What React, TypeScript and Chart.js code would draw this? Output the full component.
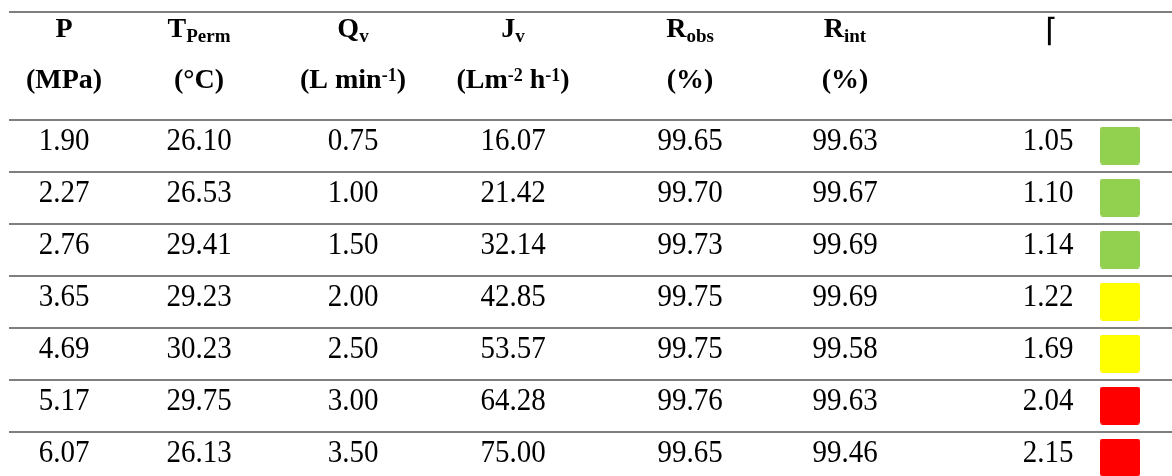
import React, { useEffect, useRef } from "react";
import { Chart, registerables } from "chart.js";

Chart.register(...registerables);

const pressureMPa = [1.9, 2.27, 2.76, 3.65, 4.69, 5.17, 6.07];
const permeateTempC = [26.1, 26.53, 29.41, 29.23, 30.23, 29.75, 26.13];
const flowRateLmin = [0.75, 1.0, 1.5, 2.0, 2.5, 3.0, 3.5];
const fluxLMH = [16.07, 21.42, 32.14, 42.85, 53.57, 64.28, 75.0];
const rejectionObs = [99.65, 99.7, 99.73, 99.75, 99.75, 99.76, 99.65];
const rejectionInt = [99.63, 99.67, 99.69, 99.69, 99.58, 99.63, 99.46];
const gammaFactor = [1.05, 1.1, 1.14, 1.22, 1.69, 2.04, 2.15];
const statusLevel = ["green", "green", "green", "yellow", "yellow", "red", "red"];

type Seg = [string, "n" | "sub" | "sup"];
const headerLine1: Seg[][] = [
  [["P", "n"]],
  [["T", "n"], ["Perm", "sub"]],
  [["Q", "n"], ["v", "sub"]],
  [["J", "n"], ["v", "sub"]],
  [["R", "n"], ["obs", "sub"]],
  [["R", "n"], ["int", "sub"]],
];
const headerLine2: Seg[][] = [
  [["(MPa)", "n"]],
  [["(°C)", "n"]],
  [["(L min", "n"], ["-1", "sup"], [")", "n"]],
  [["(Lm", "n"], ["-2", "sup"], [" h", "n"], ["-1", "sup"], [")", "n"]],
  [["(%)", "n"]],
  [["(%)", "n"]],
];
const gammaSymbol = "⌈";

// ---- styles / layout ----
const STATUS_COLORS: Record<string, string> = {
  green: "#92D050",
  yellow: "#FFFF00",
  red: "#FF0000",
};
const W = 1172;
const H = 476;
const ROW_PX = 52;
const FIRST_ROW_TOP_PX = 119.5;
const LAYOUT = {
  colX: [64, 199, 353, 513, 690, 845, 1048],
  swatchX: 1120,
  ruleLeft: 9,
  topRuleV: -2.067,
  head1V: -1.587,
  head2V: -0.606,
  baselineV: 30 / ROW_PX,
  yMin: -FIRST_ROW_TOP_PX / ROW_PX,
  yMax: (H - FIRST_ROW_TOP_PX) / ROW_PX,
};
const SERIF = '"Liberation Serif", "Times New Roman", serif';

function makeSwatch(color: string): HTMLCanvasElement {
  const c = document.createElement("canvas");
  c.width = 40;
  c.height = 38;
  const g = c.getContext("2d")!;
  g.fillStyle = color;
  g.beginPath();
  if ((g as any).roundRect) (g as any).roundRect(0, 0, 40, 38, 3);
  else g.rect(0, 0, 40, 38);
  g.fill();
  return c;
}

function drawRich(ctx: CanvasRenderingContext2D, segs: Seg[], cx: number, baseY: number) {
  const font = (k: string) =>
    k === "n" ? `bold 28px ${SERIF}` : k === "sub" ? `bold 19px ${SERIF}` : `bold 18px ${SERIF}`;
  const dy = (k: string) => (k === "sub" ? 5 : k === "sup" ? -7 : 0);
  let total = 0;
  const widths = segs.map(([t, k]) => {
    ctx.font = font(k);
    const w = ctx.measureText(t).width;
    total += w;
    return w;
  });
  let x = cx - total / 2;
  ctx.textAlign = "left";
  ctx.textBaseline = "alphabetic";
  segs.forEach(([t, k], i) => {
    ctx.font = font(k);
    ctx.fillText(t, x, baseY + dy(k));
    x += widths[i];
  });
}

const tablePlugin = {
  id: "tablePlugin",
  beforeDatasetsDraw(chart: any) {
    const { ctx, scales } = chart;
    const y = scales.y;
    ctx.save();
    ctx.strokeStyle = "#7F7F7F";
    ctx.lineWidth = 2;
    const rules = [LAYOUT.topRuleV];
    for (let i = 0; i < pressureMPa.length; i++) rules.push(i);
    rules.forEach((v) => {
      const py = Math.round(y.getPixelForValue(v));
      ctx.beginPath();
      ctx.moveTo(LAYOUT.ruleLeft, py);
      ctx.lineTo(W, py);
      ctx.stroke();
    });
    ctx.restore();
  },
  afterDatasetsDraw(chart: any) {
    const { ctx, scales } = chart;
    const x = scales.x;
    const y = scales.y;
    ctx.save();
    ctx.fillStyle = "#000";
    const h1 = y.getPixelForValue(LAYOUT.head1V);
    const h2 = y.getPixelForValue(LAYOUT.head2V);
    headerLine1.forEach((segs, c) => drawRich(ctx, segs, x.getPixelForValue(LAYOUT.colX[c]), h1));
    headerLine2.forEach((segs, c) => drawRich(ctx, segs, x.getPixelForValue(LAYOUT.colX[c]), h2));
    // gamma header symbol
    ctx.font = `32px "DejaVu Sans", sans-serif`;
    ctx.textAlign = "left";
    ctx.fillText(gammaSymbol, x.getPixelForValue(LAYOUT.colX[6]) - 3, h1 + 4);

    const cols = [pressureMPa, permeateTempC, flowRateLmin, fluxLMH, rejectionObs, rejectionInt, gammaFactor];
    ctx.font = `29px ${SERIF}`;
    ctx.textAlign = "center";
    ctx.textBaseline = "alphabetic";
    const sy = 1.08;
    cols.forEach((arr, c) => {
      arr.forEach((val, i) => {
        const px = x.getPixelForValue(LAYOUT.colX[c]);
        const py = y.getPixelForValue(i + LAYOUT.baselineV);
        ctx.save();
        ctx.translate(px, py);
        ctx.scale(1, sy);
        ctx.fillText(val.toFixed(2), 0, 0);
        ctx.restore();
      });
    });
    ctx.restore();
  },
};

export default function App() {
  const ref = useRef<HTMLCanvasElement | null>(null);
  useEffect(() => {
    document.body.style.margin = "0";
    document.body.style.overflow = "hidden";
    const swatches: Record<string, HTMLCanvasElement> = {};
    Object.keys(STATUS_COLORS).forEach((k) => (swatches[k] = makeSwatch(STATUS_COLORS[k])));
    const chart = new Chart(ref.current!, {
      type: "scatter",
      data: {
        datasets: [
          {
            label: "Γ status",
            data: gammaFactor.map((_, i) => ({ x: LAYOUT.swatchX, y: i + 0.5 })),
            pointStyle: statusLevel.map((s) => swatches[s]) as any,
            pointRadius: 20,
            backgroundColor: statusLevel.map((s) => STATUS_COLORS[s]),
            borderWidth: 0,
            clip: false as any,
          },
        ],
      },
      options: {
        animation: false,
        responsive: false,
        devicePixelRatio: 1,
        layout: { padding: 0, autoPadding: false },
        plugins: { legend: { display: false }, tooltip: { enabled: false } },
        events: [],
        scales: {
          x: { type: "linear", min: 0, max: W, display: false },
          y: { type: "linear", min: LAYOUT.yMin, max: LAYOUT.yMax, reverse: true, display: false },
        },
      },
      plugins: [tablePlugin],
    });
    return () => chart.destroy();
  }, []);
  return (
    <div style={{ width: W, height: H, background: "#fff" }}>
      <canvas ref={ref} width={W} height={H} style={{ display: "block" }} />
    </div>
  );
}
